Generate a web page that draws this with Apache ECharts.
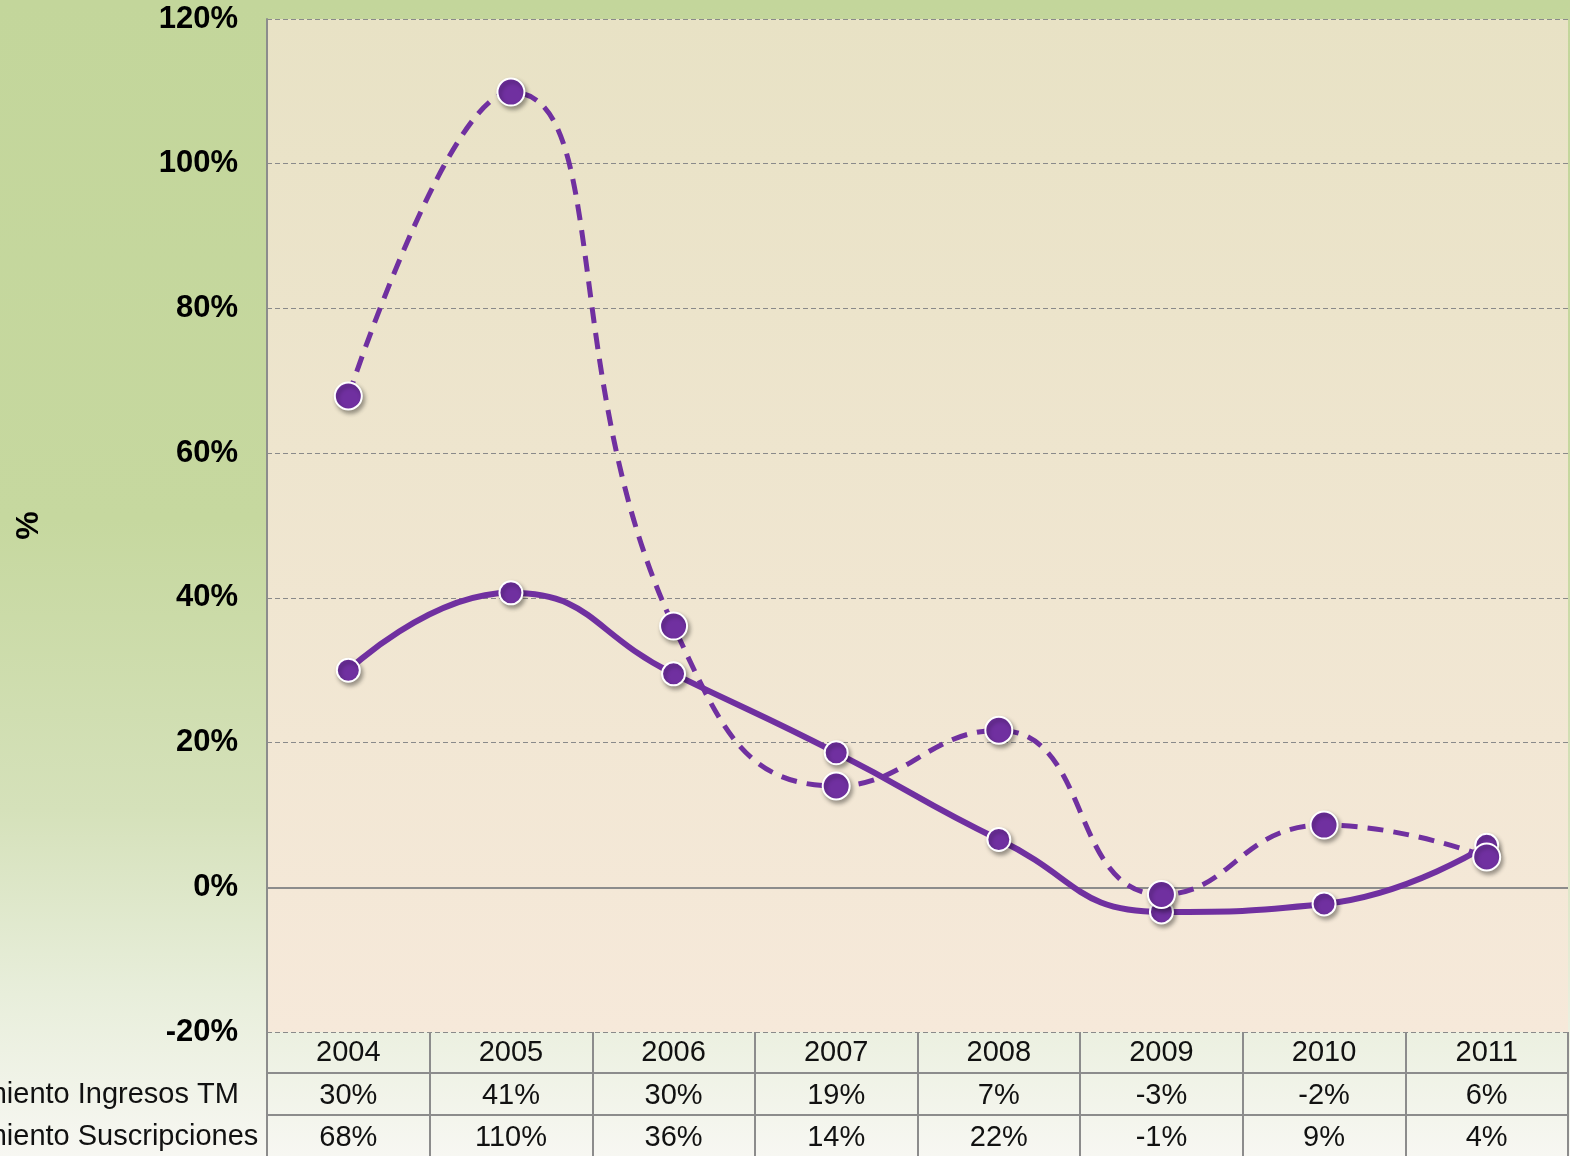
<!DOCTYPE html>
<html>
<head>
<meta charset="utf-8">
<script src="https://cdn.jsdelivr.net/npm/echarts@6/dist/echarts.min.js"></script>
<style>
  html, body { margin: 0; padding: 0; }
  #chart { width: 1570px; height: 1156px; }
</style>
</head>
<body>
<div id="chart"></div>
<script>
// datos
const years = ['2004', '2005', '2006', '2007', '2008', '2009', '2010', '2011'];
const ingresos = [30.0, 40.7, 29.5, 18.6, 6.6, -3.4, -2.3, 5.8];
const suscripciones = [67.9, 109.9, 36.1, 14.0, 21.7, -1.0, 8.6, 4.2];
const rowNames = ['Crecimiento Ingresos TM', 'Crecimiento Suscripciones'];
const yTicks = { min: -20, max: 120, step: 20 };

const FONT = '"Liberation Sans", Arial, sans-serif';
const PURPLE = '#7030a0';
const GRAY = '#8c8c8c';

const pct = v => Math.round(v) + '%';

const markerStyle = {
  color: PURPLE,
  borderColor: '#ffffff',
  borderWidth: 2,
  shadowColor: 'rgba(0,0,0,0.35)',
  shadowBlur: 4,
  shadowOffsetX: 2,
  shadowOffsetY: 3
};

// filas de la tabla inferior como ejes x adicionales
function tableAxis(values, name, offset) {
  return {
    type: 'category',
    data: years,
    position: 'bottom',
    offset: offset,
    boundaryGap: true,
    axisLine: { show: true, onZero: false, lineStyle: { color: GRAY, width: 2 } },
    axisTick: { show: false },
    axisLabel: {
      margin: 8,
      color: '#111',
      fontSize: 29,
      fontFamily: FONT,
      formatter: (v, i) => pct(values[i])
    },
    name: name,
    nameLocation: 'start',
    nameGap: 352,
    nameTextStyle: {
      align: 'left',
      verticalAlign: 'top',
      padding: [7, 0, 0, 0],
      color: '#111',
      fontSize: 29,
      fontFamily: FONT
    }
  };
}

let myChart = echarts.init(document.getElementById('chart'));

myChart.setOption({
  animation: false,
  backgroundColor: {
    type: 'linear', x: 0, y: 0, x2: 0, y2: 1,
    colorStops: [
      { offset: 0, color: '#c3d69b' },
      { offset: 0.45, color: '#c6d89f' },
      { offset: 0.7, color: '#d5e1ba' },
      { offset: 0.86, color: '#e8eedb' },
      { offset: 1, color: '#f7f7f2' }
    ]
  },
  grid: {
    left: 267,
    right: 2,
    top: 19,
    bottom: 124,
    outerBoundsMode: 'none',
    containLabel: false,
    show: true,
    borderWidth: 0,
    backgroundColor: {
      type: 'linear', x: 0, y: 0, x2: 0, y2: 1,
      colorStops: [
        { offset: 0, color: '#e8e2c5' },
        { offset: 1, color: '#f6e9da' }
      ]
    }
  },
  xAxis: [
    {
      type: 'category',
      data: years,
      position: 'bottom',
      boundaryGap: true,
      axisLine: { show: false, onZero: false },
      axisTick: {
        show: true,
        interval: 0,
        length: 124,
        lineStyle: { color: GRAY, width: 2 }
      },
      axisLabel: {
        margin: 6,
        color: '#111',
        fontSize: 29,
        fontFamily: FONT
      }
    },
    tableAxis(ingresos, rowNames[0], 41),
    tableAxis(suscripciones, rowNames[1], 83)
  ],
  yAxis: {
    type: 'value',
    min: yTicks.min,
    max: yTicks.max,
    interval: yTicks.step,
    name: '%',
    nameLocation: 'middle',
    nameRotate: 90,
    nameGap: 222,
    nameTextStyle: {
      color: '#000',
      fontSize: 32,
      fontWeight: 'bold',
      fontFamily: FONT
    },
    axisLine: { show: true, lineStyle: { color: GRAY, width: 2 } },
    axisTick: { show: false },
    axisLabel: {
      margin: 29,
      color: '#000',
      fontSize: 31,
      fontWeight: 'bold',
      fontFamily: FONT,
      formatter: '{value}%'
    },
    splitLine: {
      lineStyle: { color: '#8a8a8a', width: 1, type: [5, 3] }
    }
  },
  series: [
    {
      name: rowNames[0],
      type: 'line',
      data: ingresos,
      smooth: 0.5,
      symbol: 'circle',
      symbolSize: 23,
      lineStyle: { color: PURPLE, width: 6 },
      itemStyle: markerStyle,
      markLine: {
        silent: true,
        z: 1,
        symbol: 'none',
        label: { show: false },
        lineStyle: { color: GRAY, width: 2, type: 'solid' },
        data: [{ yAxis: 0 }]
      }
    },
    {
      name: rowNames[1],
      type: 'line',
      data: suscripciones,
      smooth: 0.5,
      symbol: 'circle',
      symbolSize: 27,
      lineStyle: { color: PURPLE, width: 5, type: [16, 10] },
      itemStyle: markerStyle
    }
  ]
});
</script>
</body>
</html>
